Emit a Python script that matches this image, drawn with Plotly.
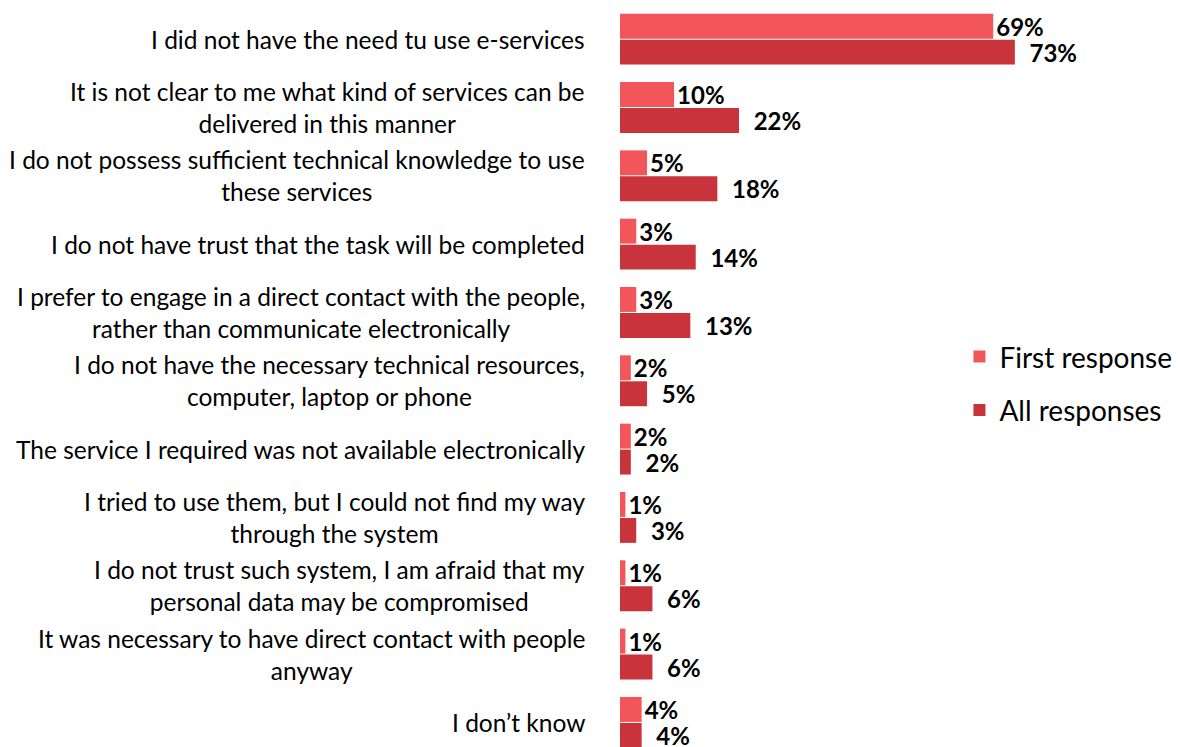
import plotly.graph_objects as go

# Reasons for not using e-services (share of respondents, %)
categories = [
    "I did not have the need tu use e-services",
    "It is not clear to me what kind of services can be<br>delivered in this manner",
    "I do not possess sufficient technical knowledge to use<br>these services",
    "I do not have trust that the task will be completed",
    "I prefer to engage in a direct contact with the people,<br>rather than communicate electronically",
    "I do not have the necessary technical resources,<br>computer, laptop or phone",
    "The service I required was not available electronically",
    "I tried to use them, but I could not find my way<br>through the system",
    "I do not trust such system, I am afraid that my<br>personal data may be compromised",
    "It was necessary to have direct contact with people<br>anyway",
    "I don’t know",
]
first_response = [69, 10, 5, 3, 3, 2, 2, 1, 1, 1, 4]
all_responses = [73, 22, 18, 14, 13, 5, 2, 3, 6, 6, 4]

FONT = "Lato"
COL_FIRST = "#F2565B"
COL_ALL = "#C9333B"

fig = go.Figure()
fig.add_trace(go.Bar(
    y=categories, x=first_response, orientation="h", name="First response",
    marker=dict(color=COL_FIRST, line=dict(width=0)),
    text=[f"{v}%" for v in first_response], textposition="outside",
    constraintext="none",
    textfont=dict(family=FONT, size=24, color="black", weight="bold"),
    cliponaxis=False, legendgroup="a",
))
fig.add_trace(go.Bar(
    y=categories, x=all_responses, orientation="h", name="All responses",
    marker=dict(color=COL_ALL, line=dict(width=0)),
    text=[f"\u00a0\u00a0{v}%" for v in all_responses], textposition="outside",
    constraintext="none",
    textfont=dict(family=FONT, size=24, color="black", weight="bold"),
    cliponaxis=False, legendgroup="b",
))

# Category labels, centred line by line and right-aligned to the plot edge
for c in categories:
    fig.add_annotation(
        x=-0.058, xref="paper", y=c, yref="y", text=c, showarrow=False,
        xanchor="right", yanchor="middle", align="center",
        font=dict(family=FONT, size=24.5, color="black"),
    )

fig.update_layout(
    width=1182, height=747,
    margin=dict(l=620, r=0, t=5, b=0),
    paper_bgcolor="white", plot_bgcolor="white",
    barmode="group", bargap=0.24, bargroupgap=0.04,
    xaxis=dict(range=[0, 103.9], visible=False),
    yaxis=dict(range=[10.36, -0.5], showticklabels=False, showgrid=False,
               zeroline=False, showline=False, ticks=""),
    legend=dict(x=0.604, y=0.49, xanchor="left", yanchor="middle",
                font=dict(family=FONT, size=28, color="black"),
                tracegroupgap=14, bgcolor="rgba(0,0,0,0)"),
    showlegend=True,
)

fig.write_html("out.html")
